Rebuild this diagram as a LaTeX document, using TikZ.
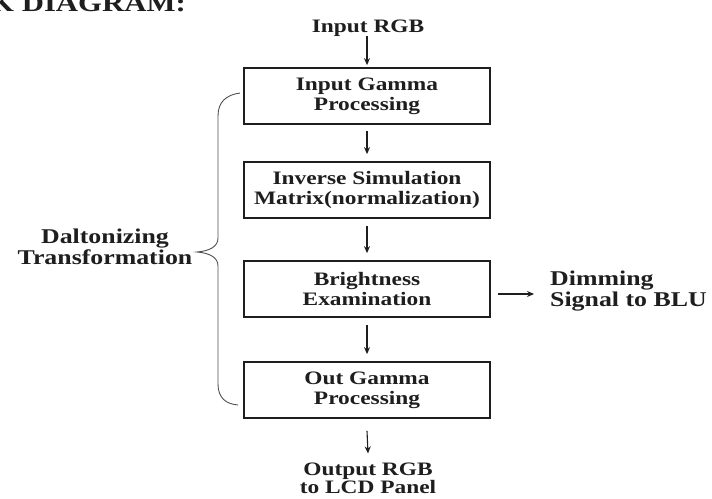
\documentclass[tikz,border=0pt]{standalone}
\usepackage{fontspec}
\setmainfont{Liberation Serif}[FakeStretch=1.23]
\usetikzlibrary{arrows.meta}
\definecolor{ink}{HTML}{1E1E1E}
\definecolor{bracegray}{HTML}{505050}
\begin{document}
\begin{tikzpicture}[x=1pt,y=-1pt,
  box/.style={draw=ink, line width=1.7pt, minimum width=246pt, minimum height=56pt,
    inner sep=0pt, align=center, text=ink,
    font=\fontsize{19}{20}\selectfont\bfseries},
  lbl/.style={inner sep=0pt, text=ink, font=\fontsize{19}{18}\selectfont\bfseries},
  side/.style={inner sep=0pt, text=ink, font=\fontsize{21}{21.5}\selectfont\bfseries},
  arr/.style={draw=ink, line width=1.1pt, -{Stealth[length=7pt,width=6pt]}}]
\useasboundingbox (0,0) rectangle (712,498);
\fill[white] (0,0) rectangle (712,498);

% heading (clipped at the page edge, as in the reference)
\node[anchor=base east, inner sep=0pt, text=ink,
  font=\fontsize{25}{25}\selectfont\bfseries] (title) at (186,11) {K DIAGRAM:};

% nodes
\node[lbl, anchor=base] (in) at (368,32) {Input RGB};
\node[box] (b1) at (367,96)  {Input Gamma\\Processing};
\node[box] (b2) at (367,190) {Inverse Simulation\\Matrix(normalization)};
\node[box] (b3) at (367,289) {Brightness\\Examination};
\node[box] (b4) at (367,390) {Out Gamma\\Processing};
\node[lbl, align=center] (out) at (368,478) {Output RGB\\to LCD Panel};
\node[side, align=left, anchor=west] (dim) at (550,291) {Dimming\\Signal to BLU};
\node[side, align=center] (dal) at (105,247) {Daltonizing\\Transformation};

% connectors
\coordinate (ina) at ([yshift=-4pt]in.base);
\draw[arr] (ina -| b1.north) -- ([yshift=2pt]b1.north);
\draw[arr] ([yshift=-6pt]b1.south) -- ([yshift=7pt]b2.north);
\draw[arr] ([yshift=-7pt]b2.south) -- ([yshift=7pt]b3.north);
\draw[arr] ([yshift=-7pt]b3.south) -- ([yshift=7pt]b4.north);
\draw[arr] ([yshift=-12pt]b4.south) -- ([yshift=9pt]out.north);
\coordinate (da) at ([xshift=7pt,yshift=-5pt]b3.east);
\coordinate (db) at (da -| dim.west);
\draw[arr] (da) -- ([xshift=-16pt]db);

% brace
\coordinate (bt) at (240,93);
\coordinate (bm) at (197,252);
\coordinate (bb) at (238,405);
\draw[bracegray, line width=0.9pt]
  (bt) .. controls (226,95) and (218,102) .. (218,116)
  -- (218,238) .. controls (218,247) and (209,251) .. (bm)
  .. controls (209,253) and (218,257) .. (218,266)
  -- (218,384) .. controls (218,398) and (226,404) .. (bb);
\end{tikzpicture}
\end{document}
